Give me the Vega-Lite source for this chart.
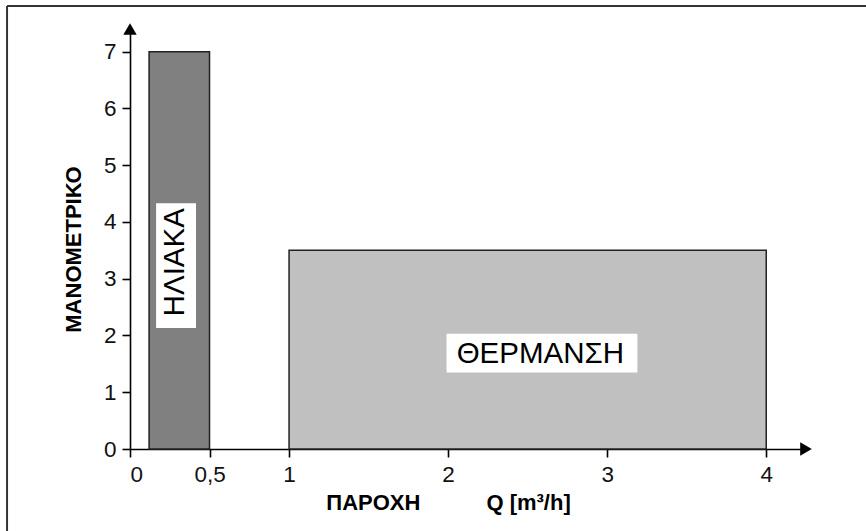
{
  "$schema": "https://vega.github.io/schema/vega-lite/v6.json",
  "width": 676,
  "height": 420,
  "autosize": "none",
  "padding": {"left": 130, "top": 29, "right": 60, "bottom": 82},
  "background": "white",
  "config": {
    "view": {"stroke": null},
    "font": "Liberation Sans",
    "axis": {
      "grid": false,
      "domainColor": "#000000", "domainWidth": 1.6,
      "tickColor": "#000000", "tickWidth": 1.6, "tickSize": 8,
      "labelFontSize": 22.5, "labelColor": "#111111",
      "labelFont": "Liberation Sans",
      "titleFont": "Liberation Sans", "titleFontSize": 22, "titleFontWeight": "bold",
      "titleColor": "#000000"
    },
    "axisX": {"labelPadding": 6},
    "axisY": {"labelPadding": 6}
  },
  "datasets": {
    "bars": [
      {"name": "ΗΛΙΑΚΑ", "q0": 0.12, "q1": 0.5, "h": 7},
      {"name": "ΘΕΡΜΑΝΣΗ", "q0": 1, "q1": 4, "h": 3.5}
    ],
    "labels": [
      {"label": "ΗΛΙΑΚΑ", "qx": 0.28, "hy": 3.29, "bx0": 0.164, "bx1": 0.415, "by0": 2.13, "by1": 4.33},
      {"label": "ΘΕΡΜΑΝΣΗ", "qx": 2.58, "hy": 1.68, "bx0": 1.99, "bx1": 3.19, "by0": 1.35, "by1": 2.03}
    ],
    "one": [{"k": 1}]
  },
  "layer": [
    {
      "data": {"name": "bars"},
      "mark": {"type": "rect", "stroke": "#222222", "strokeWidth": 1.5},
      "encoding": {
        "x": {
          "field": "q0", "type": "quantitative",
          "scale": {"domain": [0, 4.25], "nice": false, "zero": false},
          "axis": {
            "values": [0, 0.5, 1, 2, 3, 4],
            "labelExpr": "replace(format(datum.value, '~g'), '.', ',')",
            "title": "ΠΑΡΟΧΗ\u2003\u2003\u2003Q [m³/h]",
            "titleX": 318, "titleY": 53, "titleAlign": "center", "titleBaseline": "middle", "titleAnchor": null
          }
        },
        "x2": {"field": "q1"},
        "y": {
          "field": "h", "type": "quantitative",
          "scale": {"domain": [0, 7.4], "nice": false},
          "axis": {
            "values": [0, 1, 2, 3, 4, 5, 6, 7],
            "labelExpr": "format(datum.value, 'd')",
            "title": "ΜΑΝΟΜΕΤΡΙΚΟ",
            "titleX": -57, "titleY": 220, "titleAngle": 270, "titleAlign": "center", "titleBaseline": "middle", "titleAnchor": null
          }
        },
        "y2": {"datum": 0},
        "color": {
          "field": "name", "type": "nominal",
          "scale": {"domain": ["ΗΛΙΑΚΑ", "ΘΕΡΜΑΝΣΗ"], "range": ["#808080", "#c0c0c0"]},
          "legend": null
        }
      }
    },
    {
      "data": {"name": "labels"},
      "mark": {"type": "rect", "fill": "#ffffff"},
      "encoding": {
        "x": {"field": "bx0", "type": "quantitative"},
        "x2": {"field": "bx1"},
        "y": {"field": "by0", "type": "quantitative"},
        "y2": {"field": "by1"}
      }
    },
    {
      "data": {"name": "labels"},
      "transform": [{"filter": "datum.label === 'ΗΛΙΑΚΑ'"}],
      "mark": {"type": "text", "angle": 270, "fontSize": 29.5, "font": "Liberation Sans", "color": "#000000", "align": "center", "baseline": "middle"},
      "encoding": {
        "x": {"field": "qx", "type": "quantitative"},
        "y": {"field": "hy", "type": "quantitative"},
        "text": {"field": "label"}
      }
    },
    {
      "data": {"name": "labels"},
      "transform": [{"filter": "datum.label === 'ΘΕΡΜΑΝΣΗ'"}],
      "mark": {"type": "text", "fontSize": 29.5, "font": "Liberation Sans", "color": "#000000", "align": "center", "baseline": "middle"},
      "encoding": {
        "x": {"field": "qx", "type": "quantitative"},
        "y": {"field": "hy", "type": "quantitative"},
        "text": {"field": "label"}
      }
    },
    {
      "data": {"name": "one"},
      "mark": {"type": "point", "shape": "triangle-right", "filled": true, "color": "#000000", "size": 180, "opacity": 1},
      "encoding": {"x": {"datum": 4.25, "type": "quantitative"}, "y": {"datum": 0, "type": "quantitative"}}
    },
    {
      "data": {"name": "one"},
      "mark": {"type": "point", "shape": "triangle-up", "filled": true, "color": "#000000", "size": 180, "opacity": 1},
      "encoding": {"x": {"datum": 0, "type": "quantitative"}, "y": {"datum": 7.4, "type": "quantitative"}}
    },
    {
      "data": {"name": "one"},
      "mark": {"type": "rule", "color": "#333333", "strokeWidth": 2},
      "encoding": {"x": {"datum": -0.773, "type": "quantitative"}, "x2": {"datum": 4.7}, "y": {"datum": 7.805, "type": "quantitative"}}
    },
    {
      "data": {"name": "one"},
      "mark": {"type": "rule", "color": "#333333", "strokeWidth": 2},
      "encoding": {"x": {"datum": -0.773, "type": "quantitative"}, "y": {"datum": 7.805, "type": "quantitative"}, "y2": {"datum": -1.5}}
    }
  ]
}
